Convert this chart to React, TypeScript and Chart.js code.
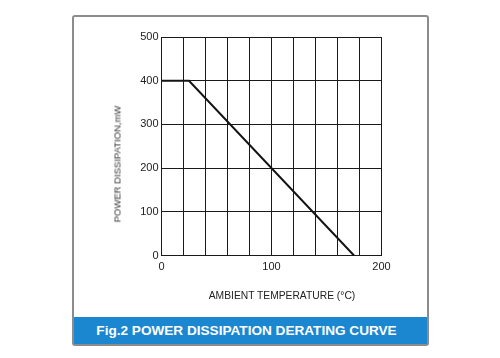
import React, { useEffect, useRef } from "react";
import { Chart, registerables } from "chart.js";

Chart.register(...registerables);

const temperatures = [0, 25, 175];
const powerMW = [400, 400, 0];
const xTickLabels = [0, 100, 200];
const yTickLabels = [0, 100, 200, 300, 400, 500];

const FONT = "'Liberation Sans', Arial, sans-serif";

export default function App() {
  const ref = useRef<HTMLCanvasElement | null>(null);

  useEffect(() => {
    if (!ref.current) return;
    const chart = new Chart(ref.current, {
      type: "line",
      data: {
        datasets: [
          {
            data: temperatures.map((t, i) => ({ x: t, y: powerMW[i] })),
            borderColor: "#141414",
            borderWidth: 2,
            pointRadius: 0,
            tension: 0,
            fill: false,
          },
        ],
      },
      options: {
        responsive: false,
        animation: false,
        layout: { padding: { left: 121.5, right: 118.5, top: 37, bottom: 77.5 } },
        plugins: { legend: { display: false }, tooltip: { enabled: false } },
        scales: {
          x: {
            type: "linear",
            min: 0,
            max: 200,
            ticks: {
              stepSize: 20,
              autoSkip: false,
              maxRotation: 0,
              padding: 5,
              color: "#222",
              font: { family: FONT, size: 11 },
              callback: (v: any) => (xTickLabels.includes(Number(v)) ? String(v) : ""),
            },
            grid: { color: "#1a1a1a", lineWidth: 1, drawTicks: false },
            border: { display: true, color: "#1a1a1a", width: 1 },
            afterFit: (s: any) => {
              s.height = 25;
            },
          },
          y: {
            min: 0,
            max: 500,
            ticks: {
              stepSize: 100,
              padding: 3,
              color: "#222",
              font: { family: FONT, size: 11 },
              callback: (v: any) => (yTickLabels.includes(Number(v)) ? String(v) : ""),
            },
            grid: { color: "#1a1a1a", lineWidth: 1, drawTicks: false },
            border: { display: true, color: "#1a1a1a", width: 1 },
            afterFit: (s: any) => {
              s.width = 40;
            },
          },
        },
      },
    });
    return () => chart.destroy();
  }, []);

  return (
    <div style={{ position: "absolute", left: 0, top: 0, width: 500, height: 358, background: "#fff", overflow: "hidden" }}>
      <div
        style={{
          position: "absolute",
          left: 72,
          top: 15,
          width: 353,
          height: 327,
          border: "2px solid #8c8c8c",
          borderRadius: 3,
          background: "#fff",
        }}
      />
      <canvas ref={ref} width={500} height={358} style={{ position: "absolute", left: 0, top: 0, display: "block" }} />
      <div
        style={{
          position: "absolute",
          left: 117,
          top: 164,
          transform: "translate(-50%, -50%) rotate(-90deg)",
          whiteSpace: "nowrap",
          fontFamily: FONT,
          fontSize: 9.5,
          color: "#333",
        }}
      >
        POWER DISSIPATION,mW
      </div>
      <div
        style={{
          position: "absolute",
          left: 282,
          top: 295,
          transform: "translate(-50%, -50%)",
          whiteSpace: "nowrap",
          fontFamily: FONT,
          fontSize: 10.3,
          color: "#222",
        }}
      >
        AMBIENT TEMPERATURE (°C)
      </div>
      <div
        style={{
          position: "absolute",
          left: 74,
          top: 317,
          width: 353,
          height: 27,
          boxSizing: "border-box",
          paddingRight: 8,
          background: "#1b87d0",
          color: "#fff",
          fontFamily: FONT,
          fontWeight: "bold",
          fontSize: 13.6,
          display: "flex",
          alignItems: "center",
          justifyContent: "center",
          whiteSpace: "nowrap",
        }}
      >
        Fig.2 POWER DISSIPATION DERATING CURVE
      </div>
    </div>
  );
}
